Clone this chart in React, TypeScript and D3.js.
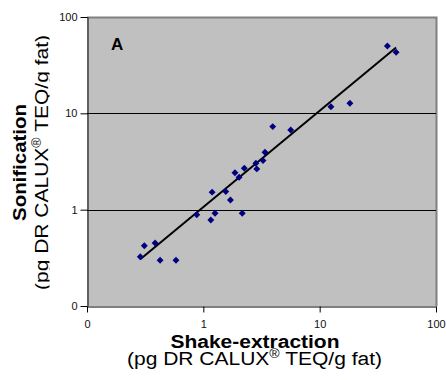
import React, { useRef, useEffect } from 'react';
import * as d3 from 'd3';

// shake-extraction vs sonification, pg DR CALUX TEQ/g fat
const shakeValues = [
  38.2, 45.4, 12.5, 18.2, 3.95, 5.64, 3.39, 3.26, 2.83, 2.88, 2.25, 1.87, 2.03,
  1.19, 1.56, 1.71, 0.878, 1.26, 1.16, 2.16, 0.311, 0.385, 0.287, 0.425, 0.582,
];
const sonicValues = [
  50.1, 43.1, 11.7, 12.7, 7.28, 6.72, 3.95, 3.23, 3.03, 2.65, 2.69, 2.42, 2.17,
  1.52, 1.54, 1.26, 0.887, 0.918, 0.782, 0.918, 0.423, 0.451, 0.325, 0.299, 0.299,
];
const tickValues = [0.1, 1, 10, 100];
const tickLabels = ['0', '1', '10', '100'];

const App: React.FC = () => {
  const svgRef = useRef<SVGSVGElement | null>(null);

  useEffect(() => {
    if (!svgRef.current) return;
    const svg = d3.select(svgRef.current);
    svg.selectAll('*').remove();

    const left = 87, right = 436, top = 17, bottom = 306;
    const font = 'Liberation Sans, Arial, sans-serif';

    const x = d3.scaleLog().domain([0.1, 100]).range([left, right]);
    const y = d3.scaleLog().domain([0.1, 100]).range([bottom, top]);

    // clip for the y subtitle (descenders cut off like the original)
    svg.append('defs').append('clipPath').attr('id', 'ysub')
      .append('rect').attr('x', 0).attr('y', 0).attr('width', 49.5).attr('height', 380);

    // plot area
    svg.append('rect')
      .attr('x', left).attr('y', top)
      .attr('width', right - left).attr('height', bottom - top)
      .attr('fill', '#c0c0c0');
    svg.append('path')
      .attr('d', `M${left},${top + 0.5}H${right + 0.5}V${bottom}`)
      .attr('fill', 'none').attr('stroke', '#808080').attr('stroke-width', 2);

    // gridlines
    svg.selectAll('.grid')
      .data([1, 10])
      .enter().append('line')
      .attr('x1', left).attr('x2', right)
      .attr('y1', d => Math.round(y(d)) + 0.5).attr('y2', d => Math.round(y(d)) + 0.5)
      .attr('stroke', '#000').attr('stroke-width', 1);

    // axes
    const fmt = (d: d3.NumberValue) => tickLabels[tickValues.indexOf(+d)];
    const yAxis = svg.append('g')
      .attr('transform', `translate(${left + 0.5},0)`)
      .call(d3.axisLeft(y).tickValues(tickValues).tickFormat(fmt).tickSize(7).tickSizeOuter(0));
    const xAxis = svg.append('g')
      .attr('transform', `translate(0,${bottom + 0.5})`)
      .call(d3.axisBottom(x).tickValues(tickValues).tickFormat(fmt).tickSize(6).tickSizeOuter(0));
    [yAxis, xAxis].forEach(a => {
      a.selectAll('path,line').attr('stroke', '#000');
      a.selectAll('text').attr('font-family', font).attr('font-size', 11).attr('fill', '#111');
    });
    yAxis.selectAll('text').attr('x', -10);
    xAxis.selectAll('text').attr('y', 14);

    // trendline: least squares through the origin, y = k*x
    const k = d3.sum(shakeValues.map((v, i) => v * sonicValues[i])) / d3.sum(shakeValues.map(v => v * v));
    const [x0, x1] = d3.extent(shakeValues) as [number, number];
    svg.append('path')
      .attr('d', d3.line<number>().x(d => x(d)).y(d => y(k * d))([x0, x1]) as string)
      .attr('stroke', '#000').attr('stroke-width', 2).attr('fill', 'none');

    // points
    const diamond = d3.symbol().type(d3.symbolSquare).size(24);
    svg.selectAll('.pt')
      .data(shakeValues)
      .enter().append('path')
      .attr('d', diamond as any)
      .attr('transform', (d, i) => `translate(${x(d)},${y(sonicValues[i])}) rotate(45)`)
      .attr('fill', '#000080');

    svg.append('text')
      .attr('x', 111).attr('y', 50)
      .attr('font-family', font).attr('font-size', 17).attr('font-weight', 'bold')
      .text('A');

    // axis titles
    svg.append('text')
      .attr('x', 170.5).attr('y', 348)
      .attr('font-family', font).attr('font-size', 18).attr('font-weight', 'bold')
      .attr('textLength', 169).attr('lengthAdjust', 'spacingAndGlyphs')
      .text('Shake-extraction');
    const xs = svg.append('text')
      .attr('x', 127).attr('y', 364.5)
      .attr('font-family', font).attr('font-size', 18)
      .attr('textLength', 255).attr('lengthAdjust', 'spacingAndGlyphs');
    xs.append('tspan').text('(pg DR CALUX');
    xs.append('tspan').attr('dy', -7).attr('font-size', 12).text('®');
    xs.append('tspan').attr('dy', 7).text(' TEQ/g fat)');

    svg.append('text')
      .attr('transform', 'translate(25.5,221) rotate(-90)')
      .attr('font-family', font).attr('font-size', 18).attr('font-weight', 'bold')
      .attr('textLength', 117).attr('lengthAdjust', 'spacingAndGlyphs')
      .text('Sonification');
    const ys = svg.append('g').attr('clip-path', 'url(#ysub)')
      .append('text')
      .attr('transform', 'translate(47.5,290) rotate(-90)')
      .attr('font-family', font).attr('font-size', 18)
      .attr('textLength', 255).attr('lengthAdjust', 'spacingAndGlyphs');
    ys.append('tspan').text('(pg DR CALUX');
    ys.append('tspan').attr('dy', -7).attr('font-size', 12).text('®');
    ys.append('tspan').attr('dy', 7).text(' TEQ/g fat)');
  }, []);

  return (
    <svg ref={svgRef} width={447} height={380}
      style={{ position: 'absolute', left: 0, top: 0, background: '#fff' }} />
  );
};

export default App;
